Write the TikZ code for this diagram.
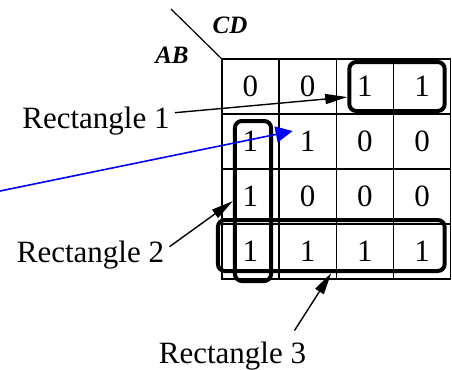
\documentclass[tikz,border=0pt]{standalone}
\usepackage{fontspec}
\setmainfont{Liberation Serif}
\usetikzlibrary{arrows.meta,positioning,fit}
\tikzset{
    cell/.style={
        draw,
        line width=0.7pt,
        minimum width=28.6pt,
        minimum height=27.5pt,
        inner sep=0pt,
        outer sep=0pt,
        font=\fontsize{15.5}{18}\selectfont
    },
    group/.style={
        draw,
        line width=2pt,
        rounded corners=3.5pt,
        inner sep=0pt
    },
    lbl/.style={font=\fontsize{15.5}{18}\selectfont, inner sep=2.5pt},
    var/.style={font=\fontsize{12.5}{15}\selectfont\bfseries\itshape, inner sep=0pt},
    arrow/.style={
        -{Triangle[length=11pt,width=5pt]},
        line width=0.7pt
    },
    bluearrow/.style={
        -{Triangle[length=8.5pt,width=8pt]},
        line width=0.8pt,
        blue
    }
}
\begin{document}
\begin{tikzpicture}[x=0.5pt,y=0.5pt]
\useasboundingbox (0,0) rectangle (452,-370);

% map cells
\node[cell] (c11) at (250.5,-86.5) {0};
\node[cell, right=0pt of c11] (c12) {0};
\node[cell, right=0pt of c12] (c13) {1};
\node[cell, right=0pt of c13] (c14) {1};
\node[cell, below=0pt of c11] (c21) {1};
\node[cell, right=0pt of c21] (c22) {1};
\node[cell, right=0pt of c22] (c23) {0};
\node[cell, right=0pt of c23] (c24) {0};
\node[cell, below=0pt of c21] (c31) {1};
\node[cell, right=0pt of c31] (c32) {0};
\node[cell, right=0pt of c32] (c33) {0};
\node[cell, right=0pt of c33] (c34) {0};
\node[cell, below=0pt of c31] (c41) {1};
\node[cell, right=0pt of c41] (c42) {1};
\node[cell, right=0pt of c42] (c43) {1};
\node[cell, right=0pt of c43] (c44) {1};

% variable corner
\node[var] (cd) at (230,-25.5) {CD};
\node[var] (ab) at (172,-55) {AB};
\coordinate (diag) at (171,-9);
\draw[line width=0.6pt] (diag) -- (c11.north west);

% groups
\node[group, fit={([shift={(6.5pt,-1.5pt)}]c13.north west) ([shift={(-3pt,1.5pt)}]c14.south east)}] (g1) {};
\node[group, fit={([shift={(6.5pt,-3.5pt)}]c21.north west) ([shift={(-4pt,-1pt)}]c41.south east)}] (g2) {};
\node[group, fit={([shift={(-2pt,2pt)}]c41.north west) ([shift={(-3pt,4pt)}]c44.south east)}] (g3) {};

% labels
\node[lbl] (r1) at (96,-121) {Rectangle 1};
\node[lbl] (r2) at (90.5,-255) {Rectangle 2};
\node[lbl] (r3) at (232.5,-356) {Rectangle 3};

\draw[arrow] (r1.6) -- (g1.192);
\draw[arrow] (r2.6) -- (g2.west);
\draw[arrow] ([shift={(31pt,3pt)}]r3.north) -- (g3.south);

\coordinate (bluestart) at (0,-191);
\draw[bluearrow] (bluestart) -- ([shift={(-7.5pt,5.25pt)}]c22.center);

\end{tikzpicture}
\end{document}
